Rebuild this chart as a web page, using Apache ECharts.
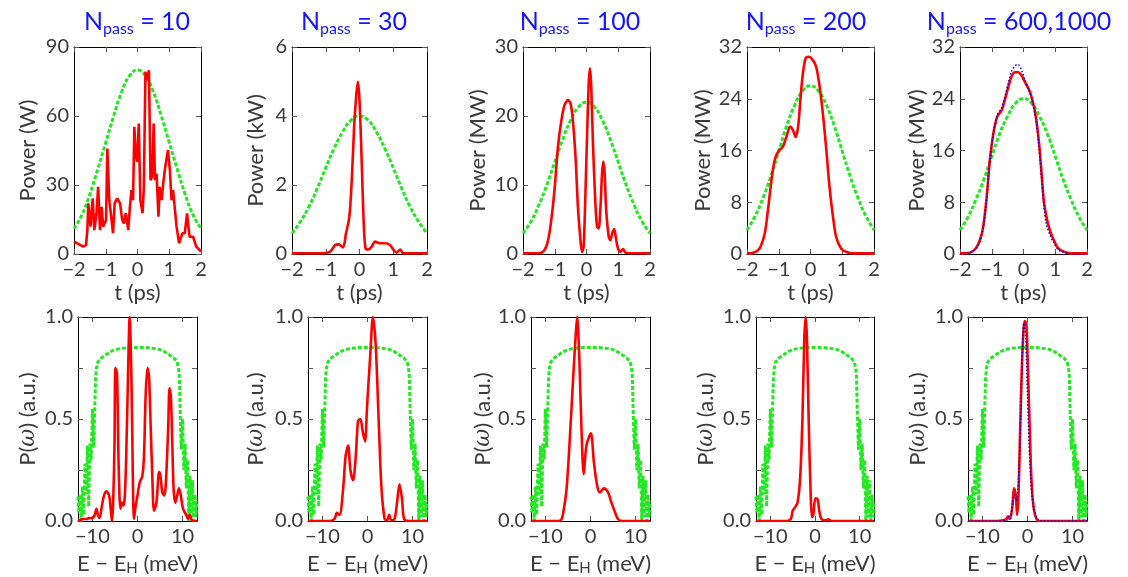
<!DOCTYPE html>
<html><head><meta charset="utf-8">
<script src="https://cdn.jsdelivr.net/npm/echarts@6/dist/echarts.min.js"></script>
<style>html,body{margin:0;padding:0;background:#fff}#c{width:1128px;height:577px}</style>
</head><body><div id="c"></div>
<script>
// ---------- DATA ----------
const titles = ['10', '30', '100', '200', '600,1000'];
const topUnits = ['W', 'kW', 'MW', 'MW', 'MW'];
const topMax = [90, 6, 30, 32, 32];
const topInterval = [30, 2, 10, 8, 8];
const tTicks = [-2, -1, 0, 1, 2];
const eTicks = [-10, 0, 10];
const pTicks = [0, 0.25, 0.5, 0.75, 1];
const pLabels = [0, 0.5, 1];

// temporal green (input) pulses
const gT = [-2, -1.75, -1.5, -1.25, -1, -0.75, -0.5, -0.25, 0, 0.25, 0.5, 0.75, 1, 1.25, 1.5, 1.75, 2];
const green10 = [11, 17, 26, 37, 48.5, 60, 70.5, 77.5, 80, 77.5, 70.5, 60, 48.5, 37, 26, 17, 11];
const green30 = [0.6, 0.94, 1.37, 1.9, 2.5, 3.06, 3.54, 3.88, 4.0, 3.88, 3.54, 3.06, 2.5, 1.9, 1.37, 0.94, 0.6];
const green100 = [3.0, 4.7, 7.1, 10.0, 13.3, 16.6, 19.4, 21.3, 22, 21.3, 19.4, 16.6, 13.3, 10.0, 7.1, 4.7, 3.0];
const green200 = [3.7, 5.8, 8.6, 12.0, 15.9, 19.8, 23.0, 25.2, 26, 25.2, 23.0, 19.8, 15.9, 12.0, 8.6, 5.8, 3.7];
const green600 = [3.7, 5.7, 8.4, 11.5, 15.1, 18.6, 21.3, 23.3, 24, 23.3, 21.3, 18.6, 15.1, 11.5, 8.4, 5.7, 3.7];

// temporal red pulses [t, P]
const red10 = [[-2.00,5.4],[-1.71,3.2],[-1.62,3.9],[-1.58,10.4],[-1.55,22],[-1.48,11.9],[-1.41,24.2],[-1.36,10.4],[-1.29,17.7],[-1.24,29.2],[-1.18,10.4],[-1.13,20.5],[-1.08,11.9],[-0.99,14.8],[-0.95,45.9],[-0.89,23.4],[-0.84,17.7],[-0.77,9.0],[-0.72,22],[-0.64,24.2],[-0.55,22],[-0.48,14.8],[-0.43,13.3],[-0.37,17.7],[-0.29,10.4],[-0.24,20.5],[-0.19,27.8],[-0.14,23.4],[-0.10,55.3],[-0.05,42.3],[-0.01,40.1],[0.04,56.7],[0.09,23.4],[0.16,17.7],[0.20,29.2],[0.25,79.2],[0.30,75.5],[0.36,79.9],[0.41,32.1],[0.46,33.6],[0.51,56.7],[0.55,32.1],[0.60,35],[0.66,16.2],[0.70,29.2],[0.76,23.4],[0.81,30.7],[0.86,36.5],[0.96,45.2],[1.02,36.5],[1.07,23.4],[1.12,27.8],[1.23,11.9],[1.31,4.6],[1.41,9],[1.49,9],[1.56,17.7],[1.64,7.5],[1.75,7.5],[1.85,3.2],[1.96,1.7],[2.0,1.0]];
const red30 = [[-2,0.02],[-1.16,0.02],[-0.87,0.07],[-0.72,0.26],[-0.62,0.28],[-0.49,0.19],[-0.40,0.6],[-0.30,1.08],[-0.22,2.33],[-0.16,3.68],[-0.10,4.55],[-0.05,4.99],[0.0,4.46],[0.07,2.53],[0.13,0.79],[0.18,0.16],[0.26,0.13],[0.36,0.21],[0.46,0.36],[0.60,0.31],[0.75,0.31],[0.90,0.26],[1.00,0.13],[1.10,0.04],[1.21,0.13],[1.29,0.02],[1.49,0.02],[2.0,0.02]];
const red100 = [[-2,0.1],[-1.48,0.1],[-1.32,0.6],[-1.21,2.0],[-1.11,4.9],[-1.0,9.7],[-0.90,15.5],[-0.79,19.4],[-0.69,21.6],[-0.58,22.3],[-0.50,21.8],[-0.43,19.4],[-0.34,13.6],[-0.27,6.8],[-0.19,2.0],[-0.14,0.3],[-0.09,1.1],[-0.04,7.8],[0.02,17.5],[0.07,24.7],[0.11,26.9],[0.15,24.2],[0.20,16.5],[0.27,8.3],[0.33,4.0],[0.38,3.7],[0.44,6.8],[0.49,11.7],[0.53,13.4],[0.57,11.7],[0.62,6.4],[0.70,2.5],[0.75,2.0],[0.81,3.0],[0.87,3.6],[0.92,2.5],[0.99,0.8],[1.07,0.3],[1.15,0.7],[1.23,0.2],[1.46,0.1],[2,0.1]];
const red200 = [[-2,0.1],[-1.81,0.2],[-1.65,0.6],[-1.55,1.4],[-1.44,3.2],[-1.34,6.8],[-1.23,11.4],[-1.13,14.5],[-1.02,15.8],[-0.87,16.6],[-0.76,18.1],[-0.64,19.7],[-0.55,19.1],[-0.47,18.1],[-0.39,19.7],[-0.32,23.8],[-0.24,27.9],[-0.15,30.3],[-0.05,30.5],[0.08,29.9],[0.18,28.9],[0.29,25.8],[0.39,21.7],[0.50,16.0],[0.60,10.3],[0.71,5.7],[0.81,2.6],[0.97,0.8],[1.13,0.3],[1.34,0.1],[2,0.1]];
const red600 = [[-2,0.1],[-1.69,0.2],[-1.50,0.9],[-1.37,2.2],[-1.27,4.2],[-1.16,8.8],[-1.06,14.5],[-0.95,18.6],[-0.83,21.2],[-0.69,22.2],[-0.59,23.8],[-0.48,25.8],[-0.38,27.4],[-0.27,28.1],[-0.17,28.1],[-0.06,27.6],[0.04,26.6],[0.18,25.3],[0.28,23.8],[0.39,21.2],[0.49,17.1],[0.57,12.4],[0.64,8.2],[0.72,5.8],[0.83,3.7],[0.95,2.2],[1.09,0.9],[1.25,0.4],[1.46,0.1],[2,0.1]];
const blue1000 = [[-2,0.05],[-1.69,0.2],[-1.50,0.8],[-1.37,2.0],[-1.27,4.0],[-1.16,8.5],[-1.06,14.2],[-0.95,18.6],[-0.83,21.4],[-0.69,22.6],[-0.59,24.2],[-0.48,26.4],[-0.38,28.2],[-0.27,29.1],[-0.17,29.3],[-0.06,28.4],[0.04,27.0],[0.18,25.3],[0.28,23.6],[0.39,20.8],[0.49,16.6],[0.57,11.8],[0.64,7.6],[0.72,4.6],[0.83,3.0],[0.95,1.8],[1.09,0.7],[1.25,0.3],[1.46,0.05],[2,0]];

// spectral green (input) spectrum
const specE = [-13.2,-13.0,-12.75,-12.48,-12.2,-11.93,-11.65,-11.38,-11.1,-10.83,-10.55,-10.28,-10.0,-9.72,-9.45,-9.3,-9.1,-8.8,-8.4,-8,-7,-6,-5,-4,-2,0,2,4,5,6,7,8,8.4,8.8,9.1,9.3,9.45,9.72,10.0,10.28,10.55,10.83,11.1,11.38,11.65,11.93,12.2,12.48,12.75,13.0,13.2];
const specG = [0.12,0.04,0.13,0.0,0.17,0.03,0.28,0.13,0.37,0.07,0.38,0.3,0.55,0.36,0.58,0.7,0.75,0.78,0.79,0.8,0.815,0.83,0.84,0.845,0.85,0.85,0.85,0.845,0.84,0.83,0.815,0.8,0.79,0.78,0.75,0.7,0.55,0.35,0.5,0.25,0.38,0.16,0.3,0.0,0.22,0.02,0.2,0.0,0.13,0.02,0.1];

// spectral red [E, P]
const spec10 = [[-13.2,0],[-12.1,0.01],[-11.35,0.01],[-10.6,0.015],[-10.0,0.015],[-9.5,0.03],[-9.1,0.06],[-8.8,0.03],[-8.4,0.015],[-8.0,0.06],[-7.5,0.12],[-6.9,0.145],[-6.3,0.125],[-5.95,0.06],[-5.65,0.0],[-5.4,0.09],[-5.1,0.38],[-4.9,0.75],[-4.55,0.72],[-4.2,0.29],[-3.8,0.06],[-3.5,0.09],[-3.2,0.076],[-2.85,0.11],[-2.5,0.32],[-2.1,0.72],[-1.74,1.0],[-1.3,0.64],[-1.0,0.16],[-0.78,0.01],[-0.4,0.076],[0.0,0.125],[0.5,0.19],[1.07,0.22],[1.44,0.32],[1.8,0.61],[2.2,0.75],[2.55,0.71],[2.9,0.48],[3.3,0.21],[3.66,0.05],[4.2,0.09],[4.8,0.24],[5.1,0.22],[5.5,0.14],[5.9,0.125],[6.25,0.17],[6.8,0.45],[7.1,0.65],[7.4,0.61],[7.7,0.4],[8.0,0.16],[8.4,0.09],[8.8,0.125],[9.2,0.16],[9.6,0.125],[10.1,0.06],[10.8,0.03],[11.2,0.01],[11.6,0.03],[12.2,0.0],[13.2,0]];
const spec30 = [[-13.2,0],[-8.4,0],[-7.3,0.01],[-6.8,0.04],[-6.2,0.03],[-5.4,0.16],[-4.85,0.32],[-4.3,0.37],[-3.8,0.25],[-3.2,0.2],[-2.6,0.32],[-2.1,0.49],[-1.6,0.5],[-1.0,0.43],[-0.55,0.39],[-0.1,0.56],[0.6,0.81],[1.2,1.0],[1.8,0.87],[2.5,0.48],[3.1,0.16],[3.8,0.01],[4.3,0.003],[4.8,0.03],[5.3,0.003],[6.0,0.01],[6.55,0.09],[7.1,0.18],[7.65,0.11],[8.1,0.01],[9.0,0],[13.2,0]];
const spec100 = [[-13.2,0],[-7.15,0],[-6.4,0.01],[-5.9,0.06],[-5.3,0.16],[-4.6,0.4],[-3.8,0.72],[-3.2,0.94],[-2.95,1.0],[-2.5,0.81],[-2.0,0.45],[-1.5,0.23],[-0.9,0.37],[0.07,0.43],[0.74,0.29],[1.5,0.17],[2.1,0.14],[2.95,0.16],[3.9,0.14],[4.65,0.09],[5.4,0.045],[6.1,0.01],[7.1,0],[13.2,0]];
const spec200 = [[-13.2,0],[-6.3,0],[-5.4,0.01],[-5.0,0.05],[-4.45,0.068],[-3.9,0.09],[-3.3,0.22],[-2.8,0.51],[-2.4,0.89],[-2.1,1.0],[-1.8,0.89],[-1.4,0.48],[-0.96,0.125],[-0.67,0.02],[-0.37,0.03],[0.07,0.11],[0.5,0.11],[0.96,0.05],[1.4,0.01],[2.2,0.003],[3.0,0.008],[3.7,0],[13.2,0]];
const spec600 = [[-13.2,0],[-6.9,0],[-5.4,0.003],[-4.7,0.01],[-4.3,0.023],[-3.96,0.01],[-3.4,0.06],[-3.0,0.16],[-2.6,0.125],[-2.3,0.03],[-2.0,0.125],[-1.6,0.48],[-1.15,0.81],[-0.63,0.98],[-0.26,0.97],[0.1,0.74],[0.5,0.45],[0.9,0.19],[1.4,0.06],[2.0,0.01],[2.7,0],[13.2,0]];
const specBlue1000 = [[-13.2,0],[-6.9,0],[-4.5,0.005],[-4.2,0.02],[-3.8,0.01],[-3.3,0.09],[-2.9,0.13],[-2.5,0.1],[-2.0,0.2],[-1.5,0.5],[-1.1,0.85],[-0.8,0.97],[-0.4,0.9],[0.0,0.62],[0.5,0.3],[1.2,0.08],[2.0,0.02],[2.8,0],[13.2,0]];

const greens = [green10, green30, green100, green200, green600];
const redsTop = [red10, red30, red100, red200, red600];
const redsBot = [spec10, spec30, spec100, spec200, spec600];

// ---------- LAYOUT ----------
const topGrid = [[74,127],[292,135],[523,127],[747,127],[960,127]];
const botGrid = [[78,119],[308,119],[531,119],[756,118],[968,119]];
const topNameGap = [35, 25, 34, 33, 29];
const botNameGap = [39, 41, 37, 39, 39];
const titleX = [137, 354, 580, 806, 1019];

const FONT = 'Lato, "Open Sans", sans-serif';
const TXT = '#3a3a3a';
const fmt = v => (v < 0 ? '\u2212' + (-v) : '' + v);

const grids = [], xAxes = [], yAxes = [], series = [], graphics = [];
const tickStyle = { show: true, inside: true, length: 5, lineStyle: { color: '#555', width: 1 } };
function frameAxes(gi, xmin, xmax, ymin, ymax, xOpt, yOpt, xTicks, yTicks) {
  const common = {
    type: 'value', gridIndex: gi,
    axisLine: { show: true, onZero: false, lineStyle: { color: '#000', width: 1 } },
    splitLine: { show: false }
  };
  const xt = Object.assign({}, tickStyle, xTicks ? { customValues: xTicks } : {});
  const yt = Object.assign({}, tickStyle, yTicks ? { customValues: yTicks } : {});
  xAxes.push(Object.assign({}, common, { min: xmin, max: xmax, position: 'bottom', axisTick: xt }, xOpt));
  xAxes.push(Object.assign({}, common, { min: xmin, max: xmax, position: 'top', axisLabel: { show: false }, axisTick: xt },
    xOpt.interval ? { interval: xOpt.interval } : {}));
  yAxes.push(Object.assign({}, common, { min: ymin, max: ymax, position: 'left', axisTick: yt }, yOpt));
  yAxes.push(Object.assign({}, common, { min: ymin, max: ymax, position: 'right', axisLabel: { show: false }, axisTick: yt },
    yOpt.interval ? { interval: yOpt.interval } : {}));
}
const labelStyle = { color: TXT, fontSize: 20, fontFamily: FONT };
const nameStyle = { color: TXT, fontSize: 22, fontFamily: FONT };

for (let i = 0; i < 5; i++) {
  const gi = i;
  grids.push({ left: topGrid[i][0], top: 47, width: topGrid[i][1], height: 207 });
  frameAxes(gi, -2, 2, 0, topMax[i],
    { interval: 1, axisLabel: Object.assign({ margin: 6, formatter: fmt }, labelStyle),
      name: 't (ps)', nameLocation: 'middle', nameGap: 28, nameTextStyle: nameStyle },
    { interval: topInterval[i], axisLabel: Object.assign({ margin: 5, formatter: fmt }, labelStyle),
      name: 'Power (' + topUnits[i] + ')', nameLocation: 'middle', nameGap: topNameGap[i], nameTextStyle: nameStyle });
  series.push({ type: 'line', xAxisIndex: 2 * gi, yAxisIndex: 2 * gi, showSymbol: false, smooth: true, z: 2,
    data: gT.map((t, k) => [t, greens[i][k]]),
    lineStyle: { color: '#22e822', width: 3, type: [4, 2] } });
  series.push({ type: 'line', xAxisIndex: 2 * gi, yAxisIndex: 2 * gi, showSymbol: false, smooth: i === 0 ? false : 0.3, z: 3,
    data: redsTop[i], lineStyle: { color: '#ff0000', width: 2.6 } });
  if (i === 4) {
    series.push({ type: 'line', xAxisIndex: 2 * gi, yAxisIndex: 2 * gi, showSymbol: false, smooth: 0.3, z: 4,
      data: blue1000, lineStyle: { color: '#0000ff', width: 1.5, type: [1.5, 2] } });
  }
}
for (let i = 0; i < 5; i++) {
  const gi = 5 + i;
  grids.push({ left: botGrid[i][0], top: 317, width: botGrid[i][1], height: 205 });
  frameAxes(gi, -13.2, 13.2, 0, 1,
    { axisLabel: Object.assign({ margin: 6, formatter: fmt, customValues: eTicks }, labelStyle),
      name: 'E \u2212 E{s|H} (meV)', nameLocation: 'middle', nameGap: 30,
      nameTextStyle: Object.assign({}, nameStyle, { rich: { s: { color: TXT, fontSize: 15, fontFamily: FONT, padding: [10, 0, 0, 0] } } }) },
    { axisLabel: Object.assign({ margin: 5, formatter: v => v.toFixed(1), customValues: pLabels }, labelStyle),
      name: 'P({i|\u03c9}) (a.u.)', nameLocation: 'middle', nameGap: botNameGap[i],
      nameTextStyle: Object.assign({}, nameStyle, { rich: { i: { color: TXT, fontSize: 22, fontStyle: 'italic', fontFamily: '"DejaVu Serif", serif' } } }) },
    eTicks, pTicks);
  series.push({ type: 'line', xAxisIndex: 2 * gi, yAxisIndex: 2 * gi, showSymbol: false, smooth: false, z: 2,
    data: specE.map((e, k) => [e, specG[k]]),
    lineStyle: { color: '#22e822', width: 3, type: [4, 2] } });
  series.push({ type: 'line', xAxisIndex: 2 * gi, yAxisIndex: 2 * gi, showSymbol: false, smooth: 0.3, z: 3,
    data: redsBot[i], lineStyle: { color: '#ff0000', width: 2.6 } });
  if (i === 4) {
    series.push({ type: 'line', xAxisIndex: 2 * gi, yAxisIndex: 2 * gi, showSymbol: false, smooth: 0.3, z: 4,
      data: specBlue1000, lineStyle: { color: '#0000ff', width: 1.5, type: [1.5, 2] } });
  }
  graphics.push({ type: 'text', x: titleX[i], y: 22,
    style: { text: '{n|N}{s|pass}{n| = ' + titles[i] + '}', align: 'center', verticalAlign: 'middle',
      rich: { n: { fill: '#1414ff', fontSize: 25, fontFamily: FONT },
              s: { fill: '#1414ff', fontSize: 16, fontFamily: FONT, padding: [14, 0, 0, 0] } } } });
}

const chart = echarts.init(document.getElementById('c'), null, { renderer: 'canvas' });
chart.setOption({
  animation: false, backgroundColor: '#fff',
  grid: grids, xAxis: xAxes, yAxis: yAxes, series: series, graphic: graphics
});
</script></body></html>
